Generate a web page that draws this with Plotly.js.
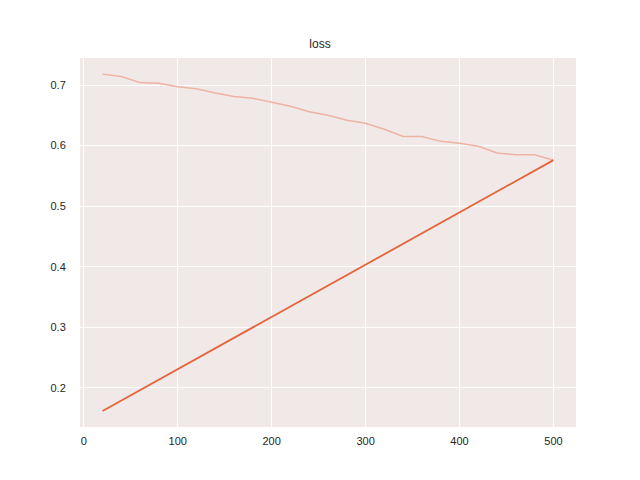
<!DOCTYPE html>
<html>
<head>
<meta charset="utf-8">
<script src="https://cdn.plot.ly/plotly-3.0.1.min.js"></script>
<style>html,body{margin:0;padding:0;background:#fff;}#chart{width:640px;height:480px;}</style>
</head>
<body>
<div id="chart"></div>
<script>
var steps = [20,40,60,80,100,120,140,160,180,200,220,240,260,280,300,320,340,360,380,400,420,440,460,480,500];
var lossRaw = [0.718,0.714,0.704,0.703,0.697,0.694,0.687,0.681,0.678,0.671,0.665,0.656,0.650,0.642,0.637,0.627,0.615,0.615,0.607,0.604,0.599,0.588,0.585,0.585,0.576];
var trendSteps = [20,500];
var trendValues = [0.162,0.576];
var xTicks = [0,100,200,300,400,500];
var yTicks = [0.2,0.3,0.4,0.5,0.6,0.7];

var traces = [
  {x: steps, y: lossRaw, type:'scatter', mode:'lines', line:{color:'#eeb3a1', width:1.5}, hoverinfo:'none'},
  {x: trendSteps, y: trendValues, type:'scatter', mode:'lines', line:{color:'#e5643a', width:1.8}, hoverinfo:'none'}
];
var layout = {
  width:640, height:480,
  margin:{l:80, r:64, t:58, b:53},
  paper_bgcolor:'#ffffff', plot_bgcolor:'#f1e8e8',
  showlegend:false,
  title:{text:'loss', x:0.5, xanchor:'center', y:1-44/480, yanchor:'middle', font:{family:'Liberation Sans, Arial, sans-serif', size:12, color:'#262626'}},
  xaxis:{range:[-4,524], tickvals:xTicks, ticktext:xTicks.map(String), showgrid:true, gridcolor:'#ffffff', gridwidth:1, zeroline:false, showline:false, ticks:'outside', ticklen:4, tickcolor:'rgba(0,0,0,0)', tickfont:{family:'Liberation Sans, Arial, sans-serif', size:11, color:'#262626'}},
  yaxis:{range:[0.1356,0.7446], tickvals:yTicks, ticktext:yTicks.map(function(v){return v.toFixed(1);}), showgrid:true, gridcolor:'#ffffff', gridwidth:1, zeroline:false, showline:false, ticks:'outside', ticklen:11, tickcolor:'rgba(0,0,0,0)', tickfont:{family:'Liberation Sans, Arial, sans-serif', size:11, color:'#262626'}}
};
Plotly.newPlot('chart', traces, layout, {displayModeBar:false, staticPlot:true});
</script>
</body>
</html>
